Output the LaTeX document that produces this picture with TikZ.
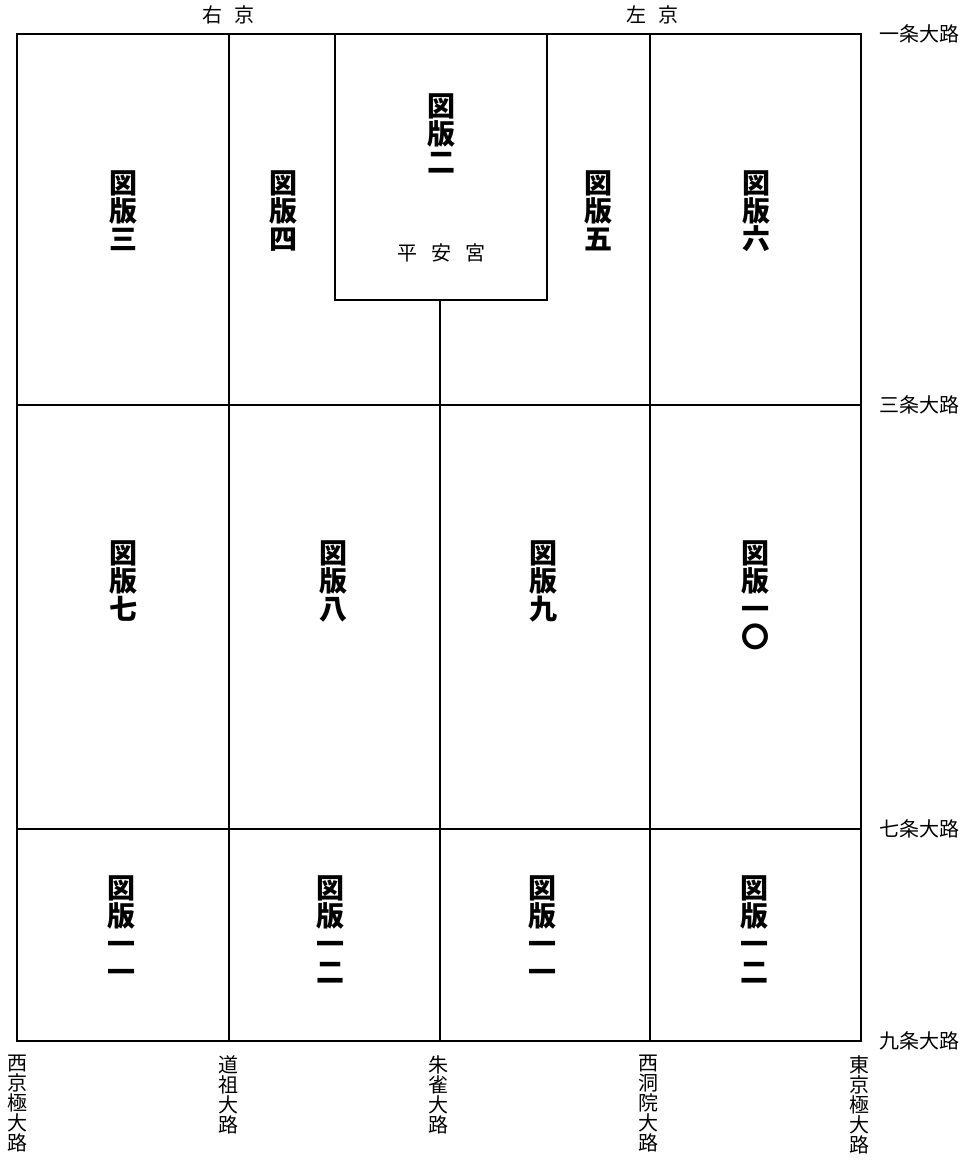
\documentclass[tikz,border=0pt]{standalone}
\usepackage{fontspec}
\newfontfamily\cjk{Noto Sans CJK JP}
\tikzset{
  plate/.style={anchor=north,inner sep=0pt,align=center,
    font=\cjk\bfseries\fontsize{14}{14}\selectfont},
  road/.style={inner sep=0pt,font=\cjk\fontsize{10}{10}\selectfont},
  street/.style={road,anchor=north,align=center},
  grid/.style={line width=1.2pt}
}

\begin{document}
\begin{tikzpicture}[x=0.5pt,y=-0.5pt]
  \useasboundingbox (0,0) rectangle (976,1160);
  % outer frame and the big streets
  \draw[grid] (17,34) rectangle (861,1041);
  \draw[grid] (17,405) -- (861,405);
  \draw[grid] (17,829) -- (861,829);
  \draw[grid] (229,34) -- (229,1041);
  \draw[grid] (650,34) -- (650,1041);
  % palace and Suzaku
  \draw[grid] (335,34) rectangle (547,300);
  \draw[grid] (440,300) -- (440,1041);
  \node[road] (ukyo) at (228,15) {右\hskip6pt 京};
  \node[road] (sakyo) at (652,15) {左\hskip6pt 京};
  \node[road] (palace) at (441,253) {平\hskip7pt 安\hskip7pt 宮};
  % plates
  \node[plate] (p2) at (441,93) {図\\版\\二};
  \node[plate] (p3) at (123,170) {図\\版\\三};
  \node[plate] (p4) at (283,170) {図\\版\\四};
  \node[plate] (p5) at (598,170) {図\\版\\五};
  \node[plate] (p6) at (756,170) {図\\版\\六};
  \node[plate] (p7) at (123,540) {図\\版\\七};
  \node[plate] (p8) at (333,540) {図\\版\\八};
  \node[plate] (p9) at (543,540) {図\\版\\九};
  \node[plate] (p10) at (755,540) {図\\版\\一\\〇};
  \node[plate] (p11a) at (121,875) {図\\版\\一\\一};
  \node[plate] (p12a) at (330,875) {図\\版\\一\\二};
  \node[plate] (p11b) at (542,875) {図\\版\\一\\一};
  \node[plate] (p12b) at (754,875) {図\\版\\一\\二};
  % road names
  \foreach \y/\txt [count=\i] in {34/一条大路,405/三条大路,829/七条大路,1041/九条大路}
    \node[road,anchor=west] (jo\i) at (879,\y) {\txt};
  \node[street] (nishikyogoku) at (17,1055) {西\\京\\極\\大\\路};
  \node[street] (sai) at (228,1055) {道\\祖\\大\\路};
  \node[street] (suzaku) at (438,1055) {朱\\雀\\大\\路};
  \node[street] (nishinotoin) at (648,1055) {西\\洞\\院\\大\\路};
  \node[street] (higashikyogoku) at (859,1055) {東\\京\\極\\大\\路};
\end{tikzpicture}
\end{document}
